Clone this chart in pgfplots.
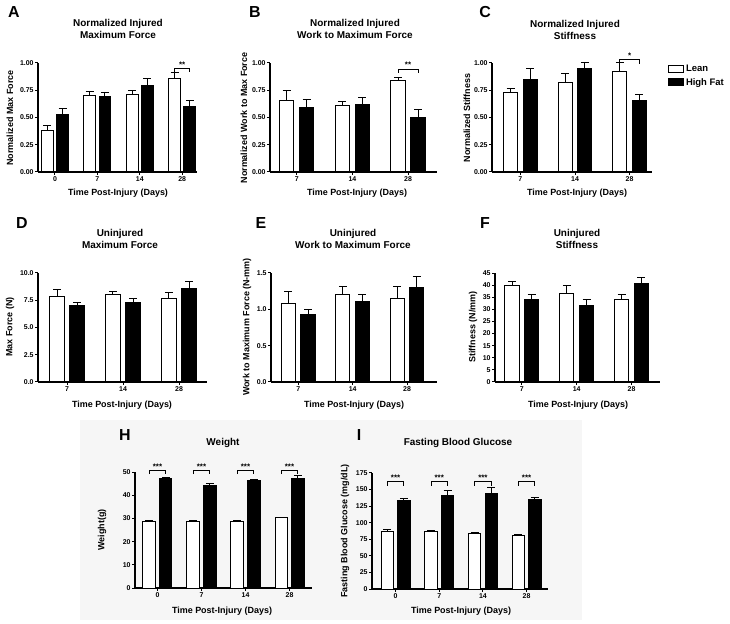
\documentclass[border=0pt]{standalone}
\usepackage{fontspec}
\setmainfont{Liberation Sans}
\usepackage{pgfplots}
\pgfplotsset{compat=1.18}
\definecolor{bgbox}{HTML}{F6F6F6}

\pgfplotsset{
  gp/.style={
    scale only axis,
    axis x line*=bottom, axis y line*=left,
    axis line style={line width=1.1pt,-},
    every tick/.style={black, line width=1pt},
    tick align=outside,
    major tick length=3bp,
    ymin=0,
    tick label style={font=\bfseries\fontsize{7}{8}\selectfont, inner sep=1.2bp},
    /pgf/number format/assume math mode=true,
    clip=false,
    xtick={0,1,2,3},
  },
  ebars/.style={
    error bars/y dir=plus, error bars/y explicit,
    error bars/error bar style={line width=1pt,black},
    error bars/error mark options={rotate=90,line width=1pt,black,mark size=4bp}},
  lean/.style={ybar, bar width=#1, bar shift=0pt, fill=white, draw=black, line width=1pt, ebars},
  hf/.style={ybar, bar width=#1, bar shift=0pt, fill=black, draw=black, line width=1pt, ebars},
}
\newcommand{\sig}[5]{%
  \draw[line width=0.9pt] ([yshift=-4bp]axis cs:#1,#4) -- (axis cs:#1,#4) -- (axis cs:#2,#4) -- ([yshift=-4bp]axis cs:#2,#4);
  \node[anchor=base, inner sep=0pt, font=\bfseries\fontsize{8}{8}\selectfont] at ([yshift=1bp]axis cs:#3,#4) {#5};}
\newcommand{\ttl}{\bfseries\fontsize{10}{12}\selectfont}
\newcommand{\lbl}{\bfseries\fontsize{9}{10}\selectfont}
\newcommand{\pl}{\bfseries\fontsize{16}{16}\selectfont}

\begin{document}
\begin{tikzpicture}
\useasboundingbox (0bp,0bp) rectangle (730bp,624bp);
\fill[bgbox] (80bp,4bp) rectangle (582bp,204bp);

% ---------- A ----------
\begin{axis}[gp, at={(38bp,452bp)}, anchor=south west, width=159bp, height=109bp,
  xmin=-0.4, xmax=3.35, xticklabels={0,7,14,28},
  ymax=1, ytick={0,0.25,0.5,0.75,1}, yticklabels={0.00,0.25,0.50,0.75,1.00}]
\addplot[lean=0.28] coordinates {(-0.18,0.38) +- (0,0.05) (0.82,0.70) +- (0,0.035) (1.82,0.71) +- (0,0.04) (2.82,0.86) +- (0,0.05)};
\addplot[hf=0.28] coordinates {(0.18,0.53) +- (0,0.05) (1.18,0.69) +- (0,0.04) (2.18,0.79) +- (0,0.065) (3.18,0.60) +- (0,0.06)};
\sig{2.82}{3.18}{3}{0.95}{**}
\end{axis}

% ---------- B ----------
\begin{axis}[gp, at={(270bp,452bp)}, anchor=south west, width=167bp, height=109bp,
  xmin=-0.48, xmax=2.52, xtick={0,1,2}, xticklabels={7,14,28},
  ymax=1, ytick={0,0.25,0.5,0.75,1}, yticklabels={0.00,0.25,0.50,0.75,1.00}]
\addplot[lean=0.26] coordinates {(-0.18,0.66) +- (0,0.085) (0.82,0.61) +- (0,0.04) (1.82,0.84) +- (0,0.03)};
\addplot[hf=0.26] coordinates {(0.18,0.59) +- (0,0.075) (1.18,0.62) +- (0,0.065) (2.18,0.50) +- (0,0.07)};
\sig{1.82}{2.18}{2}{0.945}{**}
\end{axis}

% ---------- C ----------
\begin{axis}[gp, at={(492bp,452bp)}, anchor=south west, width=160bp, height=109bp,
  xmin=-0.52, xmax=2.41, xtick={0,1,2}, xticklabels={7,14,28},
  ymax=1, ytick={0,0.25,0.5,0.75,1}, yticklabels={0.00,0.25,0.50,0.75,1.00},
  legend style={at={(1.1,1.0)}, anchor=north west, draw=none, fill=none,
    font=\bfseries\fontsize{9.5}{11}\selectfont, row sep=1bp, inner sep=0pt},
  legend cell align=left,
  legend image code/.code={\draw[line width=0.8pt,#1] (0bp,-3.5bp) rectangle (15bp,3.5bp);}]
\addplot[lean=0.26] coordinates {(-0.18,0.73) +- (0,0.04) (0.82,0.82) +- (0,0.085) (1.82,0.92) +- (0,0.08)};
\addlegendentry{Lean}
\addplot[hf=0.26] coordinates {(0.18,0.85) +- (0,0.10) (1.18,0.95) +- (0,0.05) (2.18,0.66) +- (0,0.05)};
\addlegendentry{High  Fat}
\sig{1.82}{2.18}{2}{1.03}{*}
\end{axis}

% ---------- D ----------
\begin{axis}[gp, at={(38bp,242bp)}, anchor=south west, width=169bp, height=109bp,
  xmin=-0.52, xmax=2.5, xtick={0,1,2}, xticklabels={7,14,28},
  ymax=10, ytick={0,2.5,5,7.5,10}, yticklabels={0.0,2.5,5.0,7.5,10.0}]
\addplot[lean=0.26] coordinates {(-0.18,7.8) +- (0,0.65) (0.82,8.0) +- (0,0.3) (1.82,7.7) +- (0,0.5)};
\addplot[hf=0.26] coordinates {(0.18,7.05) +- (0,0.2) (1.18,7.25) +- (0,0.45) (2.18,8.6) +- (0,0.6)};
\end{axis}

% ---------- E ----------
\begin{axis}[gp, at={(271bp,242bp)}, anchor=south west, width=166bp, height=109bp,
  xmin=-0.5, xmax=2.55, xtick={0,1,2}, xticklabels={7,14,28},
  ymax=1.5, ytick={0,0.5,1,1.5}, yticklabels={0.0,0.5,1.0,1.5}]
\addplot[lean=0.26] coordinates {(-0.18,1.08) +- (0,0.17) (0.82,1.20) +- (0,0.11) (1.82,1.15) +- (0,0.17)};
\addplot[hf=0.26] coordinates {(0.18,0.93) +- (0,0.07) (1.18,1.11) +- (0,0.10) (2.18,1.30) +- (0,0.15)};
\end{axis}

% ---------- F ----------
\begin{axis}[gp, at={(495bp,242bp)}, anchor=south west, width=165bp, height=109bp,
  xmin=-0.49, xmax=2.52, xtick={0,1,2}, xticklabels={7,14,28},
  ymax=45, ytick={0,5,10,15,20,25,30,35,40,45}, yticklabels={0,5,10,15,20,25,30,35,40,45}]
\addplot[lean=0.26] coordinates {(-0.18,39.7) +- (0,1.7) (0.82,36.4) +- (0,3.4) (1.82,34.2) +- (0,2.0)};
\addplot[hf=0.26] coordinates {(0.18,34.0) +- (0,2.2) (1.18,31.6) +- (0,2.6) (2.18,40.8) +- (0,2.2)};
\end{axis}

% ---------- H ----------
\begin{axis}[gp, at={(135bp,36bp)}, anchor=south west, width=177bp, height=116bp,
  xmin=-0.51, xmax=3.51, xticklabels={0,7,14,28},
  ymax=50, ytick={0,10,20,30,40,50}, yticklabels={0,10,20,30,40,50}]
\addplot[lean=0.28] coordinates {(-0.19,28.6) +- (0,0.3) (0.81,28.7) +- (0,0.5) (1.81,28.5) +- (0,0.4) (2.81,30.3) +- (0,0.2)};
\addplot[hf=0.28] coordinates {(0.19,47.0) +- (0,0.5) (1.19,44.3) +- (0,0.7) (2.19,46.3) +- (0,0.6) (3.19,47.0) +- (0,1.3)};
\sig{-0.19}{0.19}{0}{50.8}{***}
\sig{0.81}{1.19}{1}{50.8}{***}
\sig{1.81}{2.19}{2}{50.8}{***}
\sig{2.81}{3.19}{3}{50.8}{***}
\end{axis}

% ---------- I ----------
\begin{axis}[gp, at={(372bp,35bp)}, anchor=south west, width=176bp, height=116bp,
  xmin=-0.54, xmax=3.49, xticklabels={0,7,14,28},
  ymax=175, ytick={0,25,50,75,100,125,150,175}, yticklabels={0,25,50,75,100,125,150,175}]
\addplot[lean=0.28] coordinates {(-0.19,87.5) +- (0,2) (0.81,86.5) +- (0,2.5) (1.81,83) +- (0,2) (2.81,81) +- (0,1)};
\addplot[hf=0.28] coordinates {(0.19,132.8) +- (0,3) (1.19,140.8) +- (0,7.5) (2.19,144.3) +- (0,8.6) (3.19,134.3) +- (0,3.4)};
\sig{-0.19}{0.19}{0}{162}{***}
\sig{0.81}{1.19}{1}{162}{***}
\sig{1.81}{2.19}{2}{162}{***}
\sig{2.81}{3.19}{3}{162}{***}
\end{axis}

% ---------- titles ----------
\node[align=center, font=\ttl] at (118bp,595bp) {Normalized Injured\\Maximum Force};
\node[align=center, font=\ttl] at (355bp,595bp) {Normalized Injured\\Work to  Maximum Force};
\node[align=center, font=\ttl] at (575bp,594bp) {Normalized  Injured\\Stiffness};
\node[align=center, font=\ttl] at (120bp,385bp) {Uninjured\\Maximum Force};
\node[align=center, font=\ttl] at (353bp,385bp) {Uninjured\\Work to Maximum  Force};
\node[align=center, font=\ttl] at (577bp,385bp) {Uninjured\\Stiffness};
\node[font=\ttl] at (223bp,181bp) {Weight};
\node[font=\ttl] at (458bp,181bp) {Fasting Blood Glucose};

% ---------- panel letters ----------
\node[font=\pl] at (14bp,612bp) {A};
\node[font=\pl] at (255bp,612bp) {B};
\node[font=\pl] at (485bp,612bp) {C};
\node[font=\pl] at (22bp,401bp) {D};
\node[font=\pl] at (261bp,401bp) {E};
\node[font=\pl] at (485bp,401bp) {F};
\node[font=\pl] at (125bp,189bp) {H};
\node[font=\pl] at (359bp,189bp) {I};

% ---------- y labels ----------
\node[rotate=90, font=\lbl] at (10bp,506bp) {Normalized  Max  Force};
\node[rotate=90, font=\lbl] at (244bp,506bp) {Normalized Work to Max  Force};
\node[rotate=90, font=\lbl] at (467bp,506bp) {Normalized Stiffness};
\node[rotate=90, font=\lbl] at (10bp,297bp) {Max  Force (N)};
\node[rotate=90, font=\lbl] at (247bp,297bp) {Work to Maximum  Force (N-mm)};
\node[rotate=90, font=\lbl] at (473bp,297bp) {Stiffness (N/mm)};
\node[rotate=90, font=\lbl] at (102bp,94bp) {Weight(g)};
\node[rotate=90, font=\lbl] at (345bp,93bp) {Fasting  Blood  Glucose (mg/dL)};

% ---------- x labels ----------
\foreach \xx/\yy in {118/431, 357/431, 577/431, 122/219, 354/219, 578/219, 222/13, 461/13}
  \node[font=\lbl] at (\xx bp,\yy bp) {Time Post-Injury (Days)};
\end{tikzpicture}
\end{document}
